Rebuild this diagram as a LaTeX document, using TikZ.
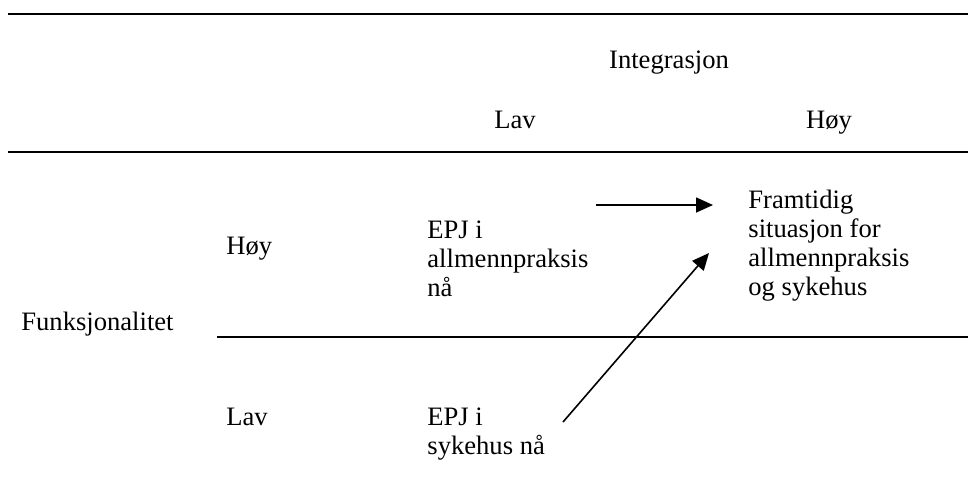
\documentclass[tikz,border=0pt]{standalone}
\usepackage{fontspec}
\setmainfont{Liberation Serif}
\usetikzlibrary{arrows.meta}
\newcommand{\stack}[1]{\begin{tabular}[t]{@{}l@{}}#1\end{tabular}}
\begin{document}
\begin{tikzpicture}[x=0.5pt,y=-0.5pt,
  lbl/.style={anchor=base west,inner sep=0pt,font=\fontsize{13.3}{14.5}\selectfont},
  rule/.style={line width=1.2pt},
  arr/.style={line width=0.8pt,-{Triangle[length=8.5pt,width=7.5pt]}}]
\useasboundingbox (0,0) rectangle (968,483);
\fill[white] (0,0) rectangle (968,483);
% rules
\coordinate (t1) at (8,14); \coordinate (t2) at (968,14);
\coordinate (m1) at (8,152); \coordinate (m2) at (968,152);
\coordinate (b1) at (217,337); \coordinate (b2) at (968,337);
\draw[rule] (t1) -- (t2);
\draw[rule] (m1) -- (m2);
\draw[rule] (b1) -- (b2);
% header
\node[lbl,anchor=base] (integ) at (669,68) {Integrasjon};
\node[lbl,anchor=base] (hlav) at (515,128) {Lav};
\node[lbl,anchor=base] (hhoy) at (829,128) {Høy};
% rows
\node[lbl] (funk) at (21,330) {Funksjonalitet};
\node[lbl] (rhoy) at (226,254) {Høy};
\node[lbl] (rlav) at (226,425) {Lav};
\node[lbl] (epja) at (427,238) {\stack{EPJ i\\allmennpraksis\\nå}};
\node[lbl] (epjs) at (427,425) {\stack{EPJ i\\sykehus nå}};
\node[lbl] (fram) at (748,208) {\stack{Framtidig\\situasjon for\\allmennpraksis\\og sykehus}};
% arrows
\coordinate (a1s) at (596,205); \coordinate (a1e) at (713,205);
\coordinate (a2s) at (563,422); \coordinate (a2e) at (709,253);
\draw[arr] (a1s) -- (a1e);
\draw[arr] (a2s) -- (a2e);
\end{tikzpicture}
\end{document}
